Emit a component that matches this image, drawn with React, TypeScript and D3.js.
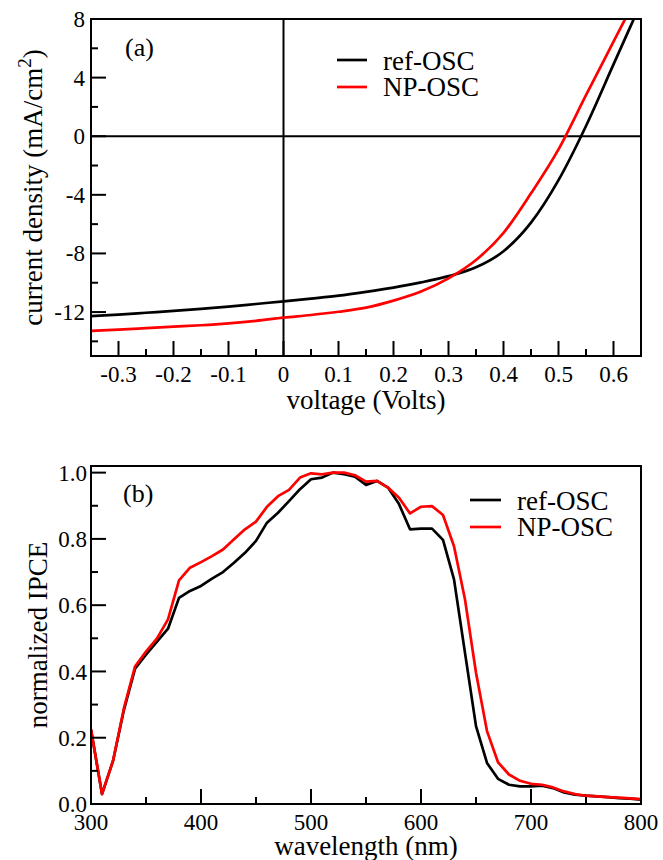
import React from 'react';
import * as d3 from 'd3';

// ---------- Panel (a): J-V curves ----------
const jvVoltage = [-0.35, -0.3, -0.25, -0.2, -0.15, -0.1, -0.05, 0, 0.05, 0.1, 0.15, 0.2, 0.25, 0.3, 0.35, 0.4, 0.45, 0.5, 0.55, 0.6, 0.65];
const jvRef = [-12.28, -12.18, -12.05, -11.92, -11.78, -11.63, -11.45, -11.27, -11.08, -10.88, -10.62, -10.33, -9.98, -9.55, -8.95, -7.85, -5.9, -3.0, 0.7, 4.9, 9.1];
const jvNP = [-13.28, -13.2, -13.1, -13.0, -12.9, -12.77, -12.6, -12.38, -12.2, -11.98, -11.7, -11.22, -10.6, -9.7, -8.45, -6.6, -3.9, -0.9, 2.8, 6.45, 10.1];
const jvXMajor = [-0.3, -0.2, -0.1, 0, 0.1, 0.2, 0.3, 0.4, 0.5, 0.6];
const jvXLabels = ['-0.3', '-0.2', '-0.1', '0', '0.1', '0.2', '0.3', '0.4', '0.5', '0.6'];
const jvXMinor = [-0.25, -0.15, -0.05, 0.05, 0.15, 0.25, 0.35, 0.45, 0.55];
const jvYMajor = [8, 4, 0, -4, -8, -12];
const jvYLabels = ['8', '4', '0', '-4', '-8', '-12'];
const jvYMinor = [6, 2, -2, -6, -10, -14];

// ---------- Panel (b): IPCE ----------
const wavelength = [300, 310, 320, 330, 340, 350, 360, 370, 380, 390, 400, 410, 420, 430, 440, 450, 460, 470, 480, 490, 500, 510, 520, 530, 540, 550, 560, 570, 580, 590, 600, 610, 620, 630, 640, 650, 660, 670, 680, 690, 700, 710, 720, 730, 740, 750, 760, 770, 780, 790, 800];
const ipceRef = [0.225, 0.03, 0.13, 0.285, 0.408, 0.451, 0.49, 0.529, 0.622, 0.643, 0.658, 0.68, 0.7, 0.728, 0.758, 0.794, 0.849, 0.879, 0.914, 0.95, 0.98, 0.985, 1.0, 0.995, 0.988, 0.963, 0.975, 0.955, 0.905, 0.829, 0.831, 0.831, 0.797, 0.678, 0.456, 0.235, 0.124, 0.076, 0.058, 0.053, 0.053, 0.055, 0.048, 0.035, 0.028, 0.025, 0.023, 0.021, 0.018, 0.016, 0.013];
const ipceNP = [0.225, 0.03, 0.13, 0.29, 0.415, 0.46, 0.5, 0.557, 0.675, 0.713, 0.73, 0.748, 0.768, 0.799, 0.829, 0.852, 0.897, 0.929, 0.948, 0.985, 0.998, 0.995, 1.0, 1.0, 0.992, 0.973, 0.975, 0.955, 0.924, 0.877, 0.897, 0.899, 0.872, 0.778, 0.617, 0.396, 0.22, 0.126, 0.089, 0.07, 0.061, 0.058, 0.05, 0.038, 0.03, 0.025, 0.023, 0.021, 0.019, 0.017, 0.015];
const ipXMajor = [300, 400, 500, 600, 700, 800];
const ipXLabels = ['300', '400', '500', '600', '700', '800'];
const ipXMinor = [350, 450, 550, 650, 750];
const ipYMajor = [0, 0.2, 0.4, 0.6, 0.8, 1.0];
const ipYLabels = ['0.0', '0.2', '0.4', '0.6', '0.8', '1.0'];
const ipYMinor = [0.1, 0.3, 0.5, 0.7, 0.9];

const seriesNames = ['ref-OSC', 'NP-OSC'];
const seriesColors = ['#000000', '#ff0000'];

const FONT = 'Liberation Serif';
const L = 91, R = 641;

export default function App() {
  const xa = d3.scaleLinear().domain([-0.35, 0.65]).range([L, R]);
  const ya = d3.scaleLinear().domain([-15, 8]).range([356, 19]);
  const xb = d3.scaleLinear().domain([300, 800]).range([L, R]);
  const yb = d3.scaleLinear().domain([0, 1.02]).range([804, 466]);

  const lineA = d3.line<number>().x((_, i) => xa(jvVoltage[i])).y((d) => ya(d)).curve(d3.curveMonotoneX);
  const refA = lineA(jvRef) as string;
  const npA = lineA(jvNP) as string;

  const lineB = d3.line<number>().x((_, i) => xb(wavelength[i])).y((d) => yb(d));
  const refB = lineB(ipceRef) as string;
  const npB = lineB(ipceNP) as string;

  const MAJ = 15, MIN = 7;
  const tickStyle = { stroke: '#000', strokeWidth: 2 };
  const txt = { fontFamily: FONT, fill: '#000' } as React.CSSProperties;
  const TICK = 23, TITLE = 27, LEG = 27;

  return (
    <svg width={663} height={860} style={{ position: 'absolute', left: 0, top: 0, background: '#fff', fontFamily: FONT }}>
      <defs>
        <clipPath id="clipA"><rect x={L} y={ya(8)} width={R - L} height={ya(-15) - ya(8)} /></clipPath>
        <clipPath id="clipB"><rect x={L} y={yb(1.02)} width={R - L} height={yb(0) - yb(1.02)} /></clipPath>
      </defs>

      {/* ===== Panel (a) ===== */}
      <g>
        <line x1={L} x2={R} y1={ya(0)} y2={ya(0)} stroke="#000" strokeWidth={2} />
        <line x1={xa(0)} x2={xa(0)} y1={ya(8)} y2={ya(-15)} stroke="#000" strokeWidth={2} />
        <g clipPath="url(#clipA)">
          <path d={refA} fill="none" stroke={seriesColors[0]} strokeWidth={2.7} />
          <path d={npA} fill="none" stroke={seriesColors[1]} strokeWidth={2.7} />
        </g>
        {jvXMajor.map((v) => (
          <line key={'xam' + v} x1={xa(v)} x2={xa(v)} y1={ya(-15)} y2={ya(-15) - MAJ} {...tickStyle} />
        ))}
        {jvXMinor.map((v) => (
          <line key={'xan' + v} x1={xa(v)} x2={xa(v)} y1={ya(-15)} y2={ya(-15) - MIN} {...tickStyle} />
        ))}
        {jvYMajor.map((v) => (
          <line key={'yam' + v} x1={L} x2={L + MAJ} y1={ya(v)} y2={ya(v)} {...tickStyle} />
        ))}
        {jvYMinor.map((v) => (
          <line key={'yan' + v} x1={L} x2={L + MIN} y1={ya(v)} y2={ya(v)} {...tickStyle} />
        ))}
        <rect x={L} y={ya(8)} width={R - L} height={ya(-15) - ya(8)} fill="none" stroke="#000" strokeWidth={2} />
        {jvXMajor.map((v, i) => (
          <text key={'xal' + v} x={xa(v)} y={382} fontSize={TICK} textAnchor="middle" style={txt}>{jvXLabels[i]}</text>
        ))}
        {jvYMajor.map((v, i) => (
          <text key={'yal' + v} x={85} y={ya(v)} dy="0.35em" fontSize={TICK} textAnchor="end" style={txt}>{jvYLabels[i]}</text>
        ))}
        <text x={(L + R) / 2} y={409} fontSize={TITLE} textAnchor="middle" style={txt}>voltage (Volts)</text>
        <text transform={`translate(42, ${(ya(8) + ya(-15)) / 2}) rotate(-90)`} fontSize={TITLE} textAnchor="middle" style={txt}>
          current density (mA/cm<tspan dy="-11" fontSize={19}>2</tspan><tspan dy="11">)</tspan>
        </text>
        <text x={125} y={56} fontSize={26} style={txt}>(a)</text>
        {seriesNames.map((n, i) => (
          <g key={'lga' + n}>
            <line x1={337} x2={367} y1={60 + i * 27} y2={60 + i * 27} stroke={seriesColors[i]} strokeWidth={2.7} />
            <text x={383} y={69.5 + i * 26.5} fontSize={LEG} style={txt}>{n}</text>
          </g>
        ))}
      </g>

      {/* ===== Panel (b) ===== */}
      <g>
        <g clipPath="url(#clipB)">
          <path d={refB} fill="none" stroke={seriesColors[0]} strokeWidth={2.7} strokeLinejoin="round" />
          <path d={npB} fill="none" stroke={seriesColors[1]} strokeWidth={2.7} strokeLinejoin="round" />
        </g>
        {ipXMajor.map((v) => (
          <line key={'xbm' + v} x1={xb(v)} x2={xb(v)} y1={yb(0)} y2={yb(0) - MAJ} {...tickStyle} />
        ))}
        {ipXMinor.map((v) => (
          <line key={'xbn' + v} x1={xb(v)} x2={xb(v)} y1={yb(0)} y2={yb(0) - MIN} {...tickStyle} />
        ))}
        {ipYMajor.map((v) => (
          <line key={'ybm' + v} x1={L} x2={L + MAJ} y1={yb(v)} y2={yb(v)} {...tickStyle} />
        ))}
        {ipYMinor.map((v) => (
          <line key={'ybn' + v} x1={L} x2={L + MIN} y1={yb(v)} y2={yb(v)} {...tickStyle} />
        ))}
        <rect x={L} y={yb(1.02)} width={R - L} height={yb(0) - yb(1.02)} fill="none" stroke="#000" strokeWidth={2} />
        {ipXMajor.map((v, i) => (
          <text key={'xbl' + v} x={xb(v)} y={830} fontSize={TICK} textAnchor="middle" style={txt}>{ipXLabels[i]}</text>
        ))}
        {ipYMajor.map((v, i) => (
          <text key={'ybl' + v} x={87} y={yb(v)} dy="0.35em" fontSize={TICK} textAnchor="end" style={txt}>{ipYLabels[i]}</text>
        ))}
        <text x={(L + R) / 2} y={855} fontSize={TITLE} textAnchor="middle" style={txt}>wavelength (nm)</text>
        <text transform={`translate(47, ${(yb(0) + yb(1.02)) / 2}) rotate(-90)`} fontSize={TITLE} textAnchor="middle" style={txt}>normalized IPCE</text>
        <text x={123} y={502} fontSize={26} style={txt}>(b)</text>
        {seriesNames.map((n, i) => (
          <g key={'lgb' + n}>
            <line x1={470} x2={501} y1={500 + i * 27} y2={500 + i * 27} stroke={seriesColors[i]} strokeWidth={2.7} />
            <text x={517} y={509.5 + i * 26.5} fontSize={LEG} style={txt}>{n}</text>
          </g>
        ))}
      </g>
    </svg>
  );
}
